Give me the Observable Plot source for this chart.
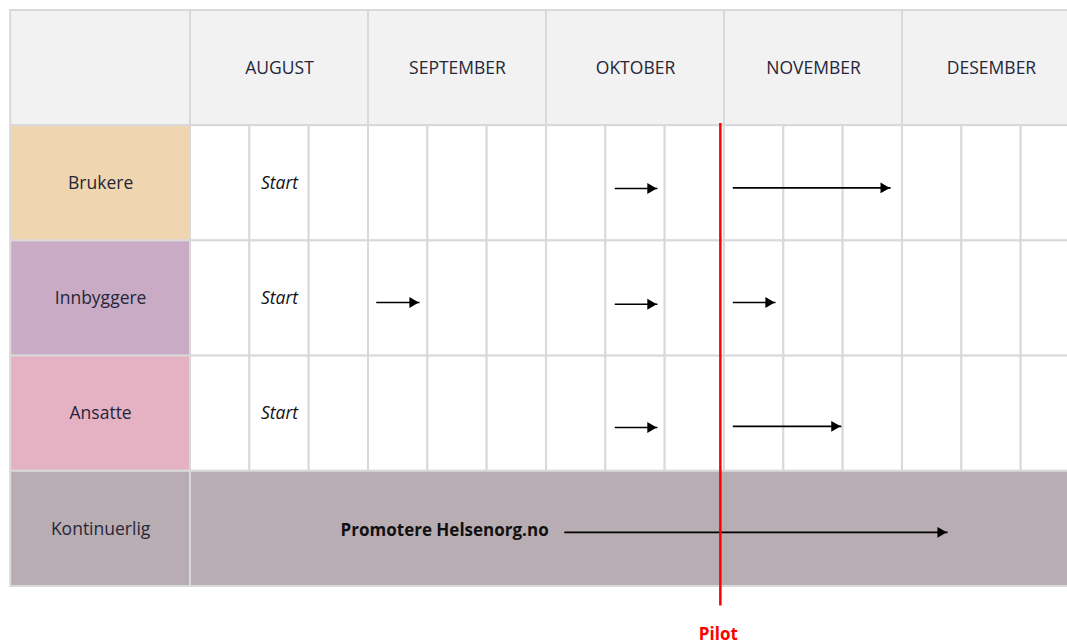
<!DOCTYPE html>
<html>
<head>
<meta charset="utf-8">
<script src="https://cdn.jsdelivr.net/npm/d3@7"></script>
<script src="https://cdn.jsdelivr.net/npm/@observablehq/plot@0.6"></script>
<style>
  html, body { margin: 0; padding: 0; background: #fff; overflow: hidden; }
</style>
</head>
<body>
<div id="chart"></div>
<script>
// ---- data ----
const months = ["AUGUST", "SEPTEMBER", "OKTOBER", "NOVEMBER", "DESEMBER"];
const groups = ["Brukere", "Innbyggere", "Ansatte", "Kontinuerlig"];
const groupFills = ["#efd5b0", "#c9abc6", "#e4b2c3", "#b8adb2"];
const startLabel = "Start";
const continuousLabel = "Promotere Helsenorg.no";
const pilotLabel = "Pilot";
const pilotAt = 8.93;          // in sub-column units (3 per month)
// arrows: group, start / end (sub-column units), vertical position (row units)
const arrowGroups = ["Brukere", "Brukere", "Innbyggere", "Innbyggere", "Innbyggere", "Ansatte", "Ansatte", "Kontinuerlig"];
const arrowFrom   = [7.15, 9.14, 3.13, 7.15, 9.14, 7.15, 9.14, 6.30];
const arrowTo     = [7.87, 11.80, 3.86, 7.87, 9.86, 7.87, 10.97, 12.76];
const arrowLevel  = [1.545, 1.54, 2.535, 2.55, 2.535, 3.62, 3.61, 4.53];

// ---- derived tables ----
const sub = 3;
const labelLeft = -3.03;
const headerFill = "#f2f2f2";
const cells = [];
cells.push({x1: labelLeft, x2: 0, y1: 0, y2: 1, fill: headerFill});
months.forEach((m, i) => cells.push({x1: i * sub, x2: (i + 1) * sub, y1: 0, y2: 1, fill: headerFill}));
groups.forEach((g, i) => cells.push({x1: labelLeft, x2: 0, y1: i + 1, y2: i + 2, fill: groupFills[i]}));
groups.forEach((g, i) => {
  if (g === "Kontinuerlig") {
    cells.push({x1: 0, x2: months.length * sub, y1: i + 1, y2: i + 2, fill: groupFills[i]});
  } else {
    for (let k = 0; k < months.length * sub; k++) {
      cells.push({x1: k, x2: k + 1, y1: i + 1, y2: i + 2, fill: "#ffffff"});
    }
  }
});
const arrows = arrowGroups.map((g, i) => ({group: g, from: arrowFrom[i], to: arrowTo[i], y: arrowLevel[i]}));
const monthLabels = months.map((m, i) => ({label: m, x: i * sub + sub / 2, y: 0.5}));
const groupLabels = groups.map((g, i) => ({label: g, x: labelLeft / 2, y: i + 1.5}));
const startLabels = groups.filter(g => g !== "Kontinuerlig").map(g => ({label: startLabel, x: 1.5, y: groups.indexOf(g) + 1.5}));

const chart = Plot.plot({
  width: 1067,
  height: 644,
  margin: 0,
  x: {domain: [0, 15], range: [190, 1080], axis: null},
  y: {domain: [0, 5], range: [10, 586], axis: null},
  color: {type: "identity"},
  style: {fontFamily: "'Open Sans', sans-serif", background: "#fff"},
  marks: [
    Plot.rect(cells, {x1: "x1", x2: "x2", y1: "y1", y2: "y2", fill: "fill", stroke: "#d9d9d9", strokeWidth: 2}),
    Plot.text(monthLabels, {x: "x", y: "y", text: "label", fontSize: 17.5, fill: "#262638"}),
    Plot.text(groupLabels, {x: "x", y: "y", text: "label", fontSize: 17.5, fill: "#262638"}),
    Plot.text(startLabels, {x: "x", y: "y", text: "label", fontSize: 17.5, fontStyle: "italic", fill: "#111"}),
    Plot.text([{label: continuousLabel, x: 2.53, y: 4.51}], {x: "x", y: "y", text: "label", textAnchor: "start", fontSize: 17, fontWeight: "bold", fill: "#111"}),
    Plot.link(arrows, {x1: "from", x2: "to", y1: "y", y2: "y", stroke: "#000", strokeWidth: 1.6, dx: 0}),
    Plot.dot(arrows, {x: "to", y: "y", symbol: "triangle2", rotate: 90, r: 5.2, fill: "#000", stroke: "none", dx: -7}),
    Plot.ruleX([pilotAt], {y1: 0.98, y2: 5.17, stroke: "#ff0000", strokeWidth: 2.5}),
    Plot.text([{label: pilotLabel, x: pilotAt, y: 5.42}], {x: "x", y: "y", text: "label", fontSize: 17, fontWeight: "bold", fill: "#ff0000", dx: -2})
  ]
});
document.getElementById("chart").append(chart);
</script>
</body>
</html>
